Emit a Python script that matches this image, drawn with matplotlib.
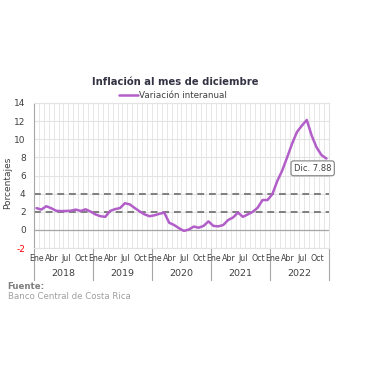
import matplotlib
matplotlib.use("Agg")
import matplotlib.pyplot as plt
import numpy as np

# monthly interannual inflation, Ene 2018 .. Dic 2022
years = ["2018", "2019", "2020", "2021", "2022"]
month_labels = ["Ene", "Abr", "Jul", "Oct"]
inflation_2018 = [2.41, 2.25, 2.62, 2.40, 2.12, 2.08, 2.10, 2.12, 2.25, 2.10, 2.28, 2.03]
inflation_2019 = [1.72, 1.52, 1.45, 2.10, 2.30, 2.42, 2.95, 2.82, 2.42, 2.05, 1.72, 1.52]
inflation_2020 = [1.62, 1.78, 1.92, 0.80, 0.55, 0.20, -0.10, 0.05, 0.38, 0.25, 0.45, 0.95]
inflation_2021 = [0.45, 0.40, 0.55, 1.10, 1.38, 1.92, 1.45, 1.72, 2.00, 2.45, 3.30, 3.30]
inflation_2022 = [3.95, 5.40, 6.55, 8.00, 9.50, 10.80, 11.50, 12.13, 10.40, 9.10, 8.25, 7.88]
target_band = [2, 4]
y_ticks = [-2, 0, 2, 4, 6, 8, 10, 12, 14]

values = np.array(inflation_2018 + inflation_2019 + inflation_2020
                  + inflation_2021 + inflation_2022)
n = len(values)
xpos = np.arange(n) + 0.5

fig = plt.figure(figsize=(3.8, 3.8), dpi=100)
ax = fig.add_axes([0.0895, 0.347, 0.776, 0.382])

line_color = "#b25ec9"
grid_color = "#e3e3e3"

# grid
for yv in y_ticks:
    ax.axhline(yv, color=grid_color, lw=0.8, zorder=0)
for xv in range(1, n):
    ax.axvline(xv, color=grid_color, lw=0.6, zorder=0)
ax.axhline(0, color="#a6a6a6", lw=0.9, zorder=1)
for yv in target_band:
    ax.axhline(yv, color="#7f7f7f", lw=1.4, ls=(0, (3.5, 2.5)), zorder=2)

ax.plot(xpos, values, color=line_color, lw=1.8, zorder=3,
        label="Variación interanual", solid_capstyle="round")

ax.set_xlim(0, n)
ax.set_ylim(-2, 14)
ax.set_yticks(y_ticks)
ax.set_yticklabels([str(v) for v in y_ticks], fontsize=6.5, color="#404040")
ax.get_yticklabels()[0].set_color("#ff0000")
ax.tick_params(axis="y", length=0, pad=6)
ax.set_xticks([])
for s in ["top", "right", "bottom"]:
    ax.spines[s].set_color(grid_color)
    ax.spines[s].set_linewidth(0.8)
ax.spines["left"].set_color("#a6a6a6")
ax.spines["left"].set_linewidth(0.8)

ax.set_ylabel("Porcentajes", fontsize=6.5, color="#404040")
ax.yaxis.set_label_coords(-0.073, 0.45)

# category axis: months and years
trans = ax.get_xaxis_transform()
for yi, yr in enumerate(years):
    for mi, lab in enumerate(month_labels):
        ax.text(yi * 12 + mi * 3 + 0.6, -0.07, lab, transform=trans,
                ha="center", va="center", fontsize=5.7, color="#404040")
    ax.text(yi * 12 + 6, -0.175, yr, transform=trans, ha="center",
            va="center", fontsize=6.8, color="#404040")
for xb in range(0, n + 1, 12):
    ax.plot([xb, xb], [0, -0.22], transform=trans, color="#a6a6a6",
            lw=0.8, clip_on=False)

# last value callout
ax.text(n - 3.3, 6.8, "Dic. 7.88", fontsize=6, color="#404040",
        ha="center", va="center", zorder=5,
        bbox=dict(boxstyle="round,pad=0.35,rounding_size=0.3",
                  fc="white", ec="#8c8c8c", lw=0.9))

ax.legend(loc="lower center", bbox_to_anchor=(0.47, 0.995), frameon=False,
          fontsize=6.3, handlelength=2.2, handletextpad=0.1,
          borderaxespad=0.0, labelcolor="#404040")

fig.text(0.46, 0.785, "Inflación al mes de diciembre", ha="center",
         va="center", fontsize=7.2, fontweight="bold", color="#333344")
fig.text(0.02, 0.247, "Fuente:", ha="left", va="center", fontsize=6.2,
         fontweight="bold", color="#7f7f7f")
fig.text(0.02, 0.221, "Banco Central de Costa Rica", ha="left",
         va="center", fontsize=6.2, color="#a0a0a0")

fig.savefig("out.png", dpi=100)
